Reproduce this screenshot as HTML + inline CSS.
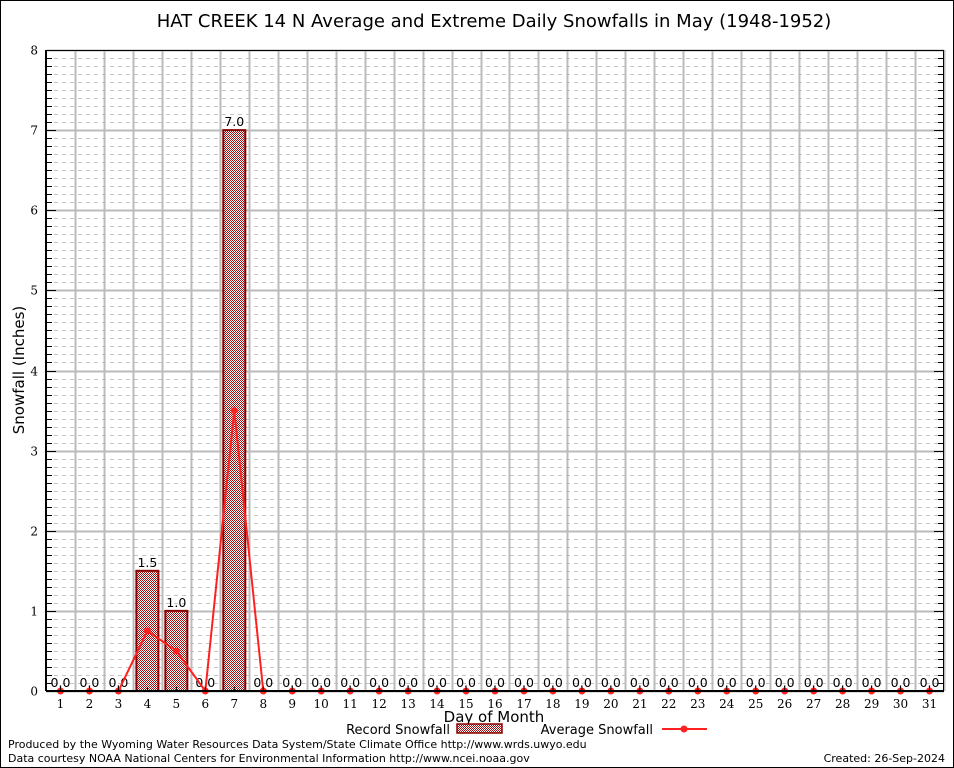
<!DOCTYPE html>
<html><head><meta charset="utf-8"><style>
html,body{margin:0;padding:0;background:#fff}
svg{display:block}
text{font-family:"DejaVu Sans","Liberation Sans",sans-serif}
.tick{font-family:"DejaVu Serif","Liberation Serif",serif;font-size:12px}
</style></head><body>
<svg id="chart" width="954" height="768" xmlns="http://www.w3.org/2000/svg">
<defs>
<pattern id="chk" width="2" height="2" patternUnits="userSpaceOnUse">
<rect width="2" height="2" fill="#fff"/><rect width="1" height="1" fill="#a01010"/><rect x="1" y="1" width="1" height="1" fill="#a01010"/>
</pattern>
</defs>
<rect x="0.5" y="0.5" width="953" height="767" fill="#fff" stroke="#000"/>
<text x="494" y="27" font-size="18" text-anchor="middle">HAT CREEK 14 N Average and Extreme Daily Snowfalls in May (1948-1952)</text>
<g id="grid"></g>
<g id="bars"></g>
<g id="line"></g>
<g id="axes"></g>
<text x="24" y="370" font-size="15" text-anchor="middle" transform="rotate(-90 24 370)">Snowfall (Inches)</text>
<text x="494" y="722" font-size="15" text-anchor="middle">Day of Month</text>
<g>
<text x="450" y="734" font-size="13" text-anchor="end">Record Snowfall</text>
<rect x="457" y="724" width="45" height="9" fill="url(#chk)" stroke="#8b0000" stroke-width="1.5"/>
<text x="653" y="734" font-size="13" text-anchor="end">Average Snowfall</text>
<line x1="662" y1="729" x2="707" y2="729" stroke="#ff2020" stroke-width="2"/>
<circle cx="684" cy="729" r="3.5" fill="#ff2020"/>
</g>
<text x="8" y="748" font-size="11">Produced by the Wyoming Water Resources Data System/State Climate Office http://www.wrds.uwyo.edu</text>
<text x="8" y="762" font-size="11">Data courtesy NOAA National Centers for Environmental Information http://www.ncei.noaa.gov</text>
<text x="945" y="762" font-size="11" text-anchor="end">Created:  26-Sep-2024</text>
</svg>
<script>
const days = [1,2,3,4,5,6,7,8,9,10,11,12,13,14,15,16,17,18,19,20,21,22,23,24,25,26,27,28,29,30,31];
const recordSnow = [0,0,0,1.5,1.0,0,7.0,0,0,0,0,0,0,0,0,0,0,0,0,0,0,0,0,0,0,0,0,0,0,0,0];
const avgSnow = [0,0,0,0.75,0.5,0,3.5,0,0,0,0,0,0,0,0,0,0,0,0,0,0,0,0,0,0,0,0,0,0,0,0];
const yTicks = [0,1,2,3,4,5,6,7,8];

const NS="http://www.w3.org/2000/svg";
const L=46,R=944,T=50,B=691,yMax=8;
const xS=d=>L+(d-0.5)*(R-L)/31;
const yS=v=>B-v*(B-T)/yMax;
function mk(tag,attrs,parent){const e=document.createElementNS(NS,tag);for(const k in attrs)e.setAttribute(k,attrs[k]);parent.appendChild(e);return e;}
const grid=document.getElementById('grid'),bars=document.getElementById('bars'),line=document.getElementById('line'),axes=document.getElementById('axes');
for(let i=1;i<yMax*10;i++){if(i%10===0)continue;const y=Math.round(yS(i/10))+0.5;
const g=mk('line',{x1:L,x2:R,y1:y,y2:y,stroke:'#c4c4c4','stroke-dasharray':'4,4','stroke-width':1},grid);


mk('line',{x1:L,x2:L+6,y1:y,y2:y,stroke:'#000'},axes);
mk('line',{x1:R-6,x2:R,y1:y,y2:y,stroke:'#000'},axes);}
yTicks.forEach(v=>{const y=Math.round(yS(v))+0.5;
const g=mk('line',{x1:L,x2:R,y1:y,y2:y,stroke:'#bbb','stroke-width':2},grid);


const t=mk('text',{x:L-8,y:y+4,'text-anchor':'end',class:'tick'},axes);t.textContent=v;


mk('line',{x1:L,x2:L+10,y1:y,y2:y,stroke:'#000'},axes);
mk('line',{x1:R-10,x2:R,y1:y,y2:y,stroke:'#000'},axes);});
for(let d=1;d<=31;d++){const x=Math.round(xS(d+0.5))+0.5;
const g=mk('line',{x1:x,x2:x,y1:T,y2:B,stroke:'#bbb','stroke-width':2},grid);

}
days.forEach((d,i)=>{const v=recordSnow[i],cx=xS(d),w=22;
if(v>0){const r=mk('rect',{x:cx-w/2,y:yS(v),width:w,height:yS(0)-yS(v),fill:'url(#chk)',stroke:'#8b0000','stroke-width':2},bars);

}
const t=mk('text',{x:cx,y:yS(v)-4,'text-anchor':'middle','font-size':12.5},bars);t.textContent=v.toFixed(1);


const xl=mk('text',{x:cx,y:B+17,'text-anchor':'middle',class:'tick'},axes);xl.textContent=d;


mk('line',{x1:cx,x2:cx,y1:B,y2:B-4,stroke:'#000'},axes);});
const pts=days.map((d,i)=>xS(d)+','+yS(avgSnow[i])).join(' ');
const pl=mk('polyline',{points:pts,fill:'none',stroke:'#ff2020','stroke-width':2},line);


days.forEach((d,i)=>{const m=mk('circle',{cx:xS(d),cy:yS(avgSnow[i]),r:3.5,fill:'#ff2020'},line);

});
const bd=mk('rect',{x:L+0.5,y:T+0.5,width:R-L-1,height:B-T,fill:'none',stroke:'#000'},axes);


mk('line',{x1:L,x2:R,y1:B,y2:B,stroke:'#000','stroke-width':2},axes);
mk('line',{x1:L,x2:L,y1:T,y2:B,stroke:'#000','stroke-width':2},axes);
</script>
</body></html>
